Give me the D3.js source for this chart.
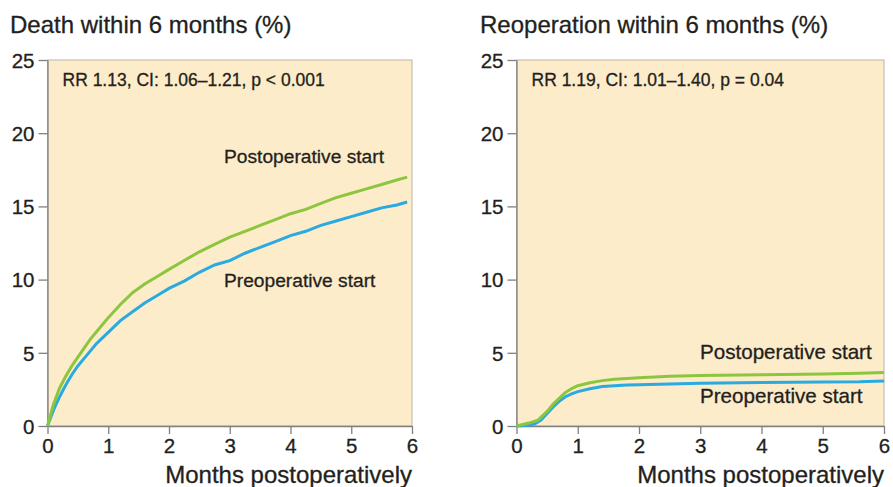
<!DOCTYPE html>
<html><head><meta charset="utf-8">
<script src="https://cdn.jsdelivr.net/npm/d3@7"></script>
<style>
body{margin:0;background:#fff;}
svg text{font-family:"Liberation Sans",Arial,sans-serif;fill:#231f20;stroke:#231f20;stroke-width:0.3px;}
</style></head>
<body><svg id="c" width="893" height="487"></svg>
<script>
// ---- data ----
const xTicks = [0,1,2,3,4,5,6];
const yTicks = [0,5,10,15,20,25];

const deathPostT = [0,0.1,0.2,0.3,0.4,0.5,0.6,0.7,0.8,0.9,1.0,1.2,1.4,1.6,1.8,2.0,2.25,2.5,2.75,3.0,3.25,3.5,3.75,4.0,4.25,4.5,4.75,5.0,5.25,5.5,5.75,5.92];
const deathPostV = [0,1.5,2.6,3.4,4.1,4.7,5.3,5.9,6.4,6.9,7.4,8.3,9.1,9.7,10.2,10.7,11.3,11.9,12.4,12.9,13.3,13.7,14.1,14.5,14.8,15.2,15.6,15.9,16.2,16.5,16.8,17.0];
const deathPreT  = [0,0.1,0.2,0.3,0.4,0.5,0.6,0.7,0.8,0.9,1.0,1.2,1.4,1.6,1.8,2.0,2.25,2.5,2.75,3.0,3.25,3.5,3.75,4.0,4.25,4.5,4.75,5.0,5.25,5.5,5.75,5.92];
const deathPreV  = [0,1.1,2.0,2.8,3.5,4.1,4.6,5.1,5.6,6.0,6.4,7.2,7.8,8.4,8.9,9.4,9.9,10.5,11.0,11.3,11.8,12.2,12.6,13.0,13.3,13.7,14.0,14.3,14.6,14.9,15.1,15.3];

const reopPostT = [0,0.2,0.35,0.5,0.6,0.7,0.8,0.9,1.0,1.2,1.4,1.6,1.8,2.0,2.5,3.0,4.0,5.0,5.6,6.0];
const reopPostV = [0,0.2,0.4,1.0,1.5,1.9,2.3,2.55,2.75,2.95,3.1,3.2,3.25,3.3,3.4,3.45,3.5,3.55,3.6,3.65];
const reopPreT  = [0,0.2,0.3,0.4,0.5,0.6,0.7,0.8,0.9,1.0,1.2,1.4,1.6,1.8,2.0,2.5,3.0,4.0,5.0,5.6,6.0];
const reopPreV  = [0,0.05,0.15,0.4,0.85,1.3,1.7,2.0,2.2,2.35,2.55,2.7,2.75,2.8,2.82,2.87,2.92,2.97,3.0,3.02,3.08];

const titles = ["Death within 6 months (%)","Reoperation within 6 months (%)"];
const stats = ["RR 1.13, CI: 1.06\u20131.21, p < 0.001","RR 1.19, CI: 1.01\u20131.40, p = 0.04"];
const xLabel = "Months postoperatively";
const postLabel = "Postoperative start", preLabel = "Preoperative start";

const GREEN = "#8cc63f", BLUE = "#29aae1", BG = "#fdecc9", AX = "#808080";

const svg = d3.select("#c");

function panel(cfg){
  const g = svg.append("g");
  const x = d3.scaleLinear().domain([0,6]).range([cfg.x0, cfg.x1]);
  const y = d3.scaleLinear().domain([0,25]).range([cfg.y0, cfg.y1]);
  g.append("rect").attr("x",x(0)).attr("y",y(25)).attr("width",x(6)-x(0)).attr("height",y(0)-y(25))
    .attr("fill",BG).attr("stroke","#b9b4ab").attr("stroke-width",1);
  // y axis
  const ya = g.append("g").attr("transform",`translate(${x(0)},0)`)
    .call(d3.axisLeft(y).tickValues(yTicks).tickFormat(d3.format("d")).tickSize(9).tickSizeOuter(0).tickPadding(4));
  ya.select(".domain").attr("stroke",AX).attr("stroke-width",1.3);
  ya.selectAll(".tick line").attr("stroke",AX).attr("stroke-width",1.3);
  ya.selectAll(".tick text").attr("font-size",20.5).attr("dy","0.36em").style("font-family","Liberation Sans, Arial, sans-serif").attr("fill","#231f20");
  // x axis
  const xa = g.append("g").attr("transform",`translate(0,${y(0)})`)
    .call(d3.axisBottom(x).tickValues(xTicks).tickFormat(d3.format("d")).tickSize(8).tickSizeOuter(0).tickPadding(4));
  xa.select(".domain").attr("stroke",AX).attr("stroke-width",1.3);
  xa.selectAll(".tick line").attr("stroke",AX).attr("stroke-width",1.3);
  xa.selectAll(".tick text").attr("font-size",20.5).style("font-family","Liberation Sans, Arial, sans-serif").attr("fill","#231f20");

  const line = d3.line().x(d=>x(d[0])).y(d=>y(d[1]));
  const post = cfg.postT.map((t,i)=>[t,cfg.postV[i]]);
  const pre = cfg.preT.map((t,i)=>[t,cfg.preV[i]]);
  g.append("path").datum(pre).attr("d",line).attr("fill","none").attr("stroke",BLUE).attr("stroke-width",3);
  g.append("path").datum(post).attr("d",line).attr("fill","none").attr("stroke",GREEN).attr("stroke-width",3);

  g.append("text").attr("x",cfg.tx).attr("y",33).attr("font-size",24).text(cfg.title);
  g.append("text").attr("x",x(0)+15).attr("y",86).attr("font-size",17.5).text(cfg.stat);
  g.append("text").attr("x",cfg.postX).attr("y",cfg.postY).attr("font-size",cfg.fs).text(postLabel);
  g.append("text").attr("x",cfg.preX).attr("y",cfg.preY).attr("font-size",cfg.fs).text(preLabel);
  g.append("text").attr("x",x(6)).attr("y",483).attr("text-anchor","end").attr("font-size",24).text(xLabel);
}

panel({x0:47.5,x1:412,y0:426,y1:60,tx:10,title:titles[0],stat:stats[0],fs:19.2,
  postT:deathPostT,postV:deathPostV,preT:deathPreT,preV:deathPreV,
  postX:224,postY:163,preX:224,preY:287});
panel({x0:516.5,x1:884,y0:426,y1:60,tx:480,title:titles[1],stat:stats[1],fs:20.6,
  postT:reopPostT,postV:reopPostV,preT:reopPreT,preV:reopPreV,
  postX:700,postY:359,preX:700,preY:403});
</script></body></html>
